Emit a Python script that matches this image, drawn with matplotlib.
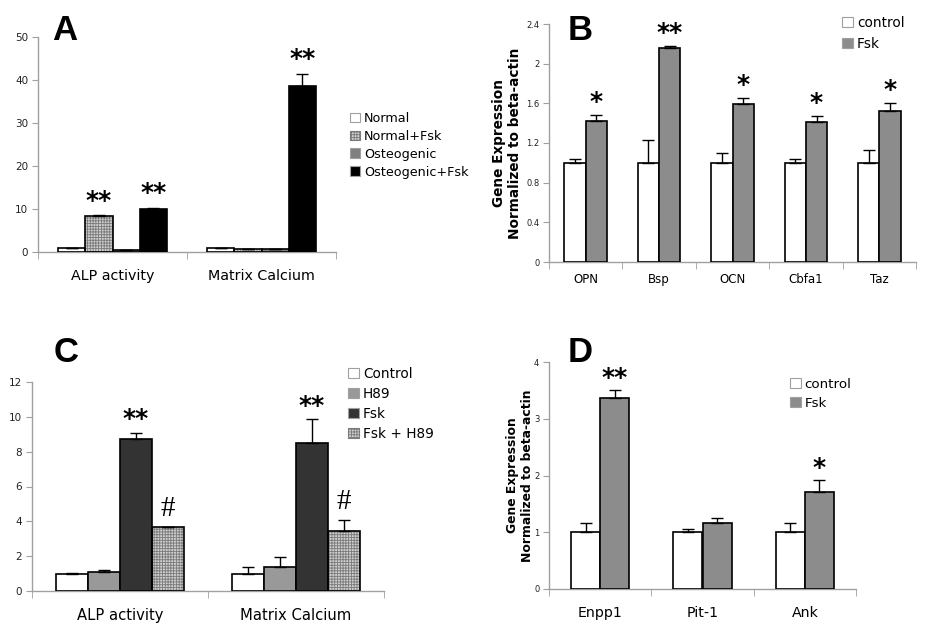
import matplotlib
matplotlib.use("Agg")
import matplotlib.pyplot as plt
import matplotlib.patches as mpatches
import numpy as np

# ---------------- data ----------------
# Panel A
a_categories = ["ALP activity", "Matrix Calcium"]
a_series = ["Normal", "Normal+Fsk", "Osteogenic", "Osteogenic+Fsk"]
a_values = [[1.0, 1.0], [8.3, 0.7], [0.5, 0.6], [10.1, 38.7]]
a_errors = [[0.0, 0.0], [0.25, 0.0], [0.0, 0.0], [0.2, 2.8]]
a_marks = [["", ""], ["**", ""], ["", ""], ["**", "**"]]
a_yticks = [0, 10, 20, 30, 40, 50]

# Panel B
b_categories = ["OPN", "Bsp", "OCN", "Cbfa1", "Taz"]
b_series = ["control", "Fsk"]
b_values = [[1.0, 1.0, 1.0, 1.0, 1.0], [1.42, 2.16, 1.59, 1.41, 1.52]]
b_errors = [[0.04, 0.23, 0.10, 0.04, 0.13], [0.06, 0.02, 0.06, 0.06, 0.08]]
b_marks = [["", "", "", "", ""], ["*", "**", "*", "*", "*"]]
b_yticks = [0, 0.4, 0.8, 1.2, 1.6, 2.0, 2.4]
b_yticklabels = ["0", "0.4", "0.8", "1.2", "1.6", "2", "2.4"]

# Panel C
c_categories = ["ALP activity", "Matrix Calcium"]
c_series = ["Control", "H89", "Fsk", "Fsk + H89"]
c_values = [[1.0, 1.0], [1.1, 1.4], [8.7, 8.5], [3.65, 3.45]]
c_errors = [[0.03, 0.38], [0.1, 0.55], [0.4, 1.35], [0.03, 0.6]]
c_marks = [["", ""], ["", ""], ["**", "**"], ["#", "#"]]
c_yticks = [0, 2, 4, 6, 8, 10, 12]

# Panel D
d_categories = ["Enpp1", "Pit-1", "Ank"]
d_series = ["control", "Fsk"]
d_values = [[1.0, 1.0, 1.0], [3.37, 1.16, 1.71]]
d_errors = [[0.16, 0.05, 0.17], [0.13, 0.09, 0.21]]
d_marks = [["", "", ""], ["**", "", "*"]]
d_yticks = [0, 1, 2, 3, 4]

ylabel_gene = "Gene Expression\nNormalized to beta-actin"

# ---------------- style ----------------
W, H = 934, 626
fig = plt.figure(figsize=(W / 100, H / 100), dpi=100)
plt.rcParams["font.family"] = ["DejaVu Sans"]
plt.rcParams["hatch.linewidth"] = 0.6

SPINE = "#a0a0a0"


def px_axes(l, t, r, b):
    return fig.add_axes([l / W, (H - b) / H, (r - l) / W, (b - t) / H])


def style_axes(ax, ncat, ylim, yticks, yticklabels, tick_fs, cat_fs, cats, cat_pad):
    for s in ["top", "right"]:
        ax.spines[s].set_visible(False)
    for s in ["left", "bottom"]:
        ax.spines[s].set_color(SPINE)
        ax.spines[s].set_linewidth(1.0)
    ax.set_xlim(-0.5, ncat - 0.5)
    ax.set_ylim(*ylim)
    ax.set_yticks(yticks)
    ax.set_yticklabels(yticklabels, fontsize=tick_fs, color="#222")
    ax.tick_params(axis="y", length=4, color=SPINE, pad=3)
    ax.set_xticks(np.arange(ncat))
    ax.set_xticklabels(cats, fontsize=cat_fs)
    ax.tick_params(axis="x", which="major", length=0, pad=cat_pad)
    ax.set_xticks(np.arange(ncat + 1) - 0.5, minor=True)
    ax.tick_params(axis="x", which="minor", length=5, color=SPINE, direction="out")
    ax.patch.set_alpha(0)


def draw_bars(ax, values, errors, marks, styles, group_w, mark_fs, mark_gap, hash_gap):
    n = len(values)
    ncat = len(values[0])
    bw = group_w / n
    x = np.arange(ncat)
    for i in range(n):
        xs = x - group_w / 2 + bw * (i + 0.5)
        st = styles[i]
        if st.get("hatch"):
            ax.bar(xs, values[i], bw, color=st["face"], edgecolor=st["hatchcolor"],
                   hatch=st["hatch"], linewidth=0, zorder=2)
            ax.bar(xs, values[i], bw, fill=False, edgecolor="black",
                   linewidth=1.2, zorder=3)
        else:
            ax.bar(xs, values[i], bw, color=st["face"], edgecolor="black",
                   linewidth=1.2, zorder=3)
        ax.errorbar(xs, values[i], yerr=[np.zeros(ncat), errors[i]], fmt="none",
                    ecolor="black", elinewidth=1.0, capsize=4, capthick=1.0, zorder=4)
        for j in range(ncat):
            m = marks[i][j]
            if m:
                top = values[i][j] + errors[i][j]
                if m == "#":
                    ax.text(xs[j], top + hash_gap, m, ha="center", va="bottom",
                            fontsize=21, family="Liberation Serif")
                else:
                    ax.text(xs[j], top + mark_gap, m, ha="center", va="bottom",
                            fontsize=mark_fs, fontweight="bold")


def legend_handles(styles, labels):
    hs = []
    for st, lab in zip(styles, labels):
        hs.append(mpatches.Patch(facecolor=st["face"], edgecolor=st.get("legedge", SPINE),
                                 hatch=st.get("hatch"), linewidth=0.8, label=lab))
    return hs


def add_legend(styles, labels, x, y, fs, spacing):
    fig.legend(handles=legend_handles(styles, labels), loc="upper left",
               bbox_to_anchor=(x / W, 1 - y / H), frameon=False, fontsize=fs,
               handlelength=0.8, handleheight=0.8, handletextpad=0.3,
               labelspacing=spacing, borderpad=0, borderaxespad=0)


def letter(x, y, s):
    fig.text(x / W, 1 - y / H, s, fontsize=25, fontweight="bold",
             family="Liberation Sans", va="baseline")


STAR_FS = 18

# ---------------- Panel A ----------------
axA = px_axes(38, 37, 336, 252)
styleA = [
    {"face": "white"},
    {"face": "#cfcfcf", "hatch": "++++++", "hatchcolor": "#7a7a7a", "legedge": "#7a7a7a"},
    {"face": "#808080"},
    {"face": "black"},
]
draw_bars(axA, a_values, a_errors, a_marks, styleA, 0.73, STAR_FS, 0.6, 0.5)
style_axes(axA, 2, (0, 50), a_yticks, [str(v) for v in a_yticks], 7.5, 10.3,
           a_categories, 12)
add_legend(styleA, a_series, 350, 112, 9.2, 0.38)
letter(52, 40, "A")

# ---------------- Panel B ----------------
axB = px_axes(549, 24, 916, 262)
styleB = [{"face": "white"}, {"face": "#8c8c8c"}]
draw_bars(axB, b_values, b_errors, b_marks, styleB, 0.58, STAR_FS, 0.01, 0.0)
style_axes(axB, 5, (0, 2.4), b_yticks, b_yticklabels, 6, 8.5, b_categories, 8)
axB.set_ylabel(ylabel_gene, fontsize=9.8, fontweight="bold", labelpad=3)
add_legend(styleB, b_series, 842, 16, 9.8, 0.5)
letter(568, 40, "B")

# ---------------- Panel C ----------------
axC = px_axes(32, 382, 384, 591)
styleC = [
    {"face": "white"},
    {"face": "#999999"},
    {"face": "#333333"},
    {"face": "#cfcfcf", "hatch": "++++++", "hatchcolor": "#7a7a7a", "legedge": "#7a7a7a"},
]
draw_bars(axC, c_values, c_errors, c_marks, styleC, 0.73, STAR_FS, 0.1, 0.3)
style_axes(axC, 2, (0, 12), c_yticks, [str(v) for v in c_yticks], 7.5, 10.6,
           c_categories, 12)
add_legend(styleC, c_series, 348, 367, 9.8, 0.43)
letter(54, 362, "C")

# ---------------- Panel D ----------------
axD = px_axes(549, 362, 856, 589)
styleD = [{"face": "white"}, {"face": "#8c8c8c"}]
draw_bars(axD, d_values, d_errors, d_marks, styleD, 0.57, STAR_FS, 0.0, 0.0)
style_axes(axD, 3, (0, 4), d_yticks, [str(v) for v in d_yticks], 6, 10.2,
           d_categories, 12)
axD.set_ylabel(ylabel_gene, fontsize=8.9, fontweight="bold", labelpad=0)
add_legend(styleD, d_series, 790, 378, 9.6, 0.42)
letter(568, 362, "D")

fig.savefig("out.png", dpi=100)
